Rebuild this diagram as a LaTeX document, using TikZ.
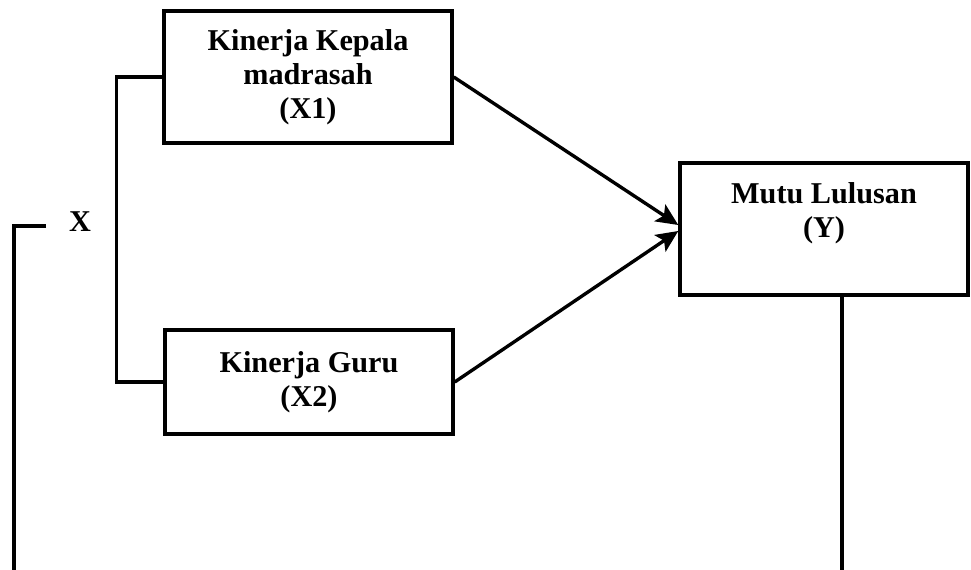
\documentclass[tikz,border=0pt]{standalone}
\usepackage{fontspec}
\setmainfont{Liberation Serif}
\usetikzlibrary{arrows.meta}

\tikzstyle{var} = [rectangle, minimum width=7.2cm, text centered, align=center, draw=black, line width=2.4pt, font=\fontsize{21.5}{24}\selectfont\bfseries]
\tikzstyle{txt} = [align=center, font=\fontsize{21.5}{24}\selectfont\bfseries]
\tikzstyle{line} = [line width=2.4pt]
\tikzstyle{arrow} = [line width=2.4pt,->,>={Stealth[length=5.5mm,width=5mm,inset=1.2mm]}]

\begin{document}
\begin{tikzpicture}[x=0.025cm, y=-0.025cm]
	\useasboundingbox (0,0) rectangle (971,570);
	
	\node (x1) [var, minimum height=3.3cm] at (308,77) {Kinerja Kepala\\madrasah\\(X1)};
	\node (x2) [var, minimum height=2.6cm] at (309,382) {Kinerja Guru\\(X2)};
	\node (y) [var, minimum height=3.3cm] at (824,229) {};
	\node (ylbl) [txt] at (824,213) {Mutu Lulusan\\(Y)};
	\node (xlbl) [txt] at (80,222) {X};
	
	\coordinate (xtop) at (46,226);
	\coordinate (xbot) at (14,570);
	\coordinate (ybot) at (842,570);
	
	\draw [line] (x1.west) -- ++(-46,0) |- (x2.west);
	\draw [line] (xtop) -| (xbot);
	\draw [line] (y.south -| ybot) -- (ybot);
	\draw [arrow] (x1.east) -- ([yshift=0.1cm]y.west);
	\draw [arrow] (x2.east) -- ([yshift=-0.05cm]y.west);
	
\end{tikzpicture}
\end{document}
